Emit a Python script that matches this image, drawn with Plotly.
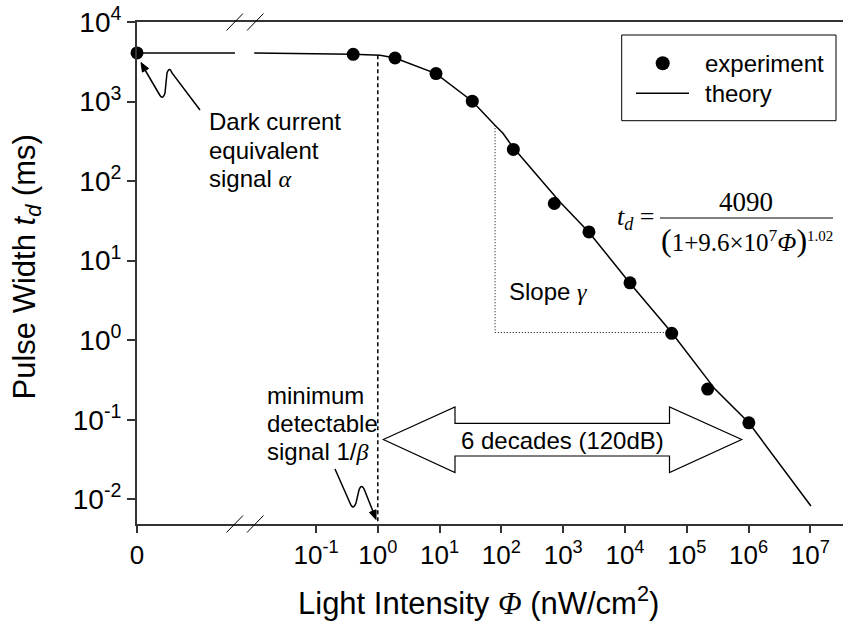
import math
import plotly.graph_objects as go

# ---------------- data ----------------
exp_zero_phi = [0]
exp_zero_t = [4090]
exp_phi = [0.40, 1.90, 8.75, 33.8, 156, 718, 2610, 12050, 57000, 2.18e5, 1.01e6]
exp_t = [3930, 3530, 2250, 1010, 250, 52.3, 23.0, 5.26, 1.22, 0.243, 0.0917]

theory_zero_phi = [0, 0.907]
theory_zero_t = [4090, 4090]
theory_phi = [0.01, 0.169, 0.40, 1.09, 1.9, 8.75, 33.8, 78.7, 106, 154, 887,
              2610, 12050, 57700, 2.86e5, 1.01e6, 1.02e7]
theory_t = [4080, 4010, 3930, 3820, 3530, 2250, 1010, 504, 400, 266, 54.8,
            22.8, 5.21, 1.23, 0.243, 0.0917, 0.00824]

min_signal_phi = [1.0, 1.0]
min_signal_t = [3820, 10 ** -2.31]

slope_phi = [79, 79, 57000]
slope_t = [504, 1.25, 1.25]

x_tickvals = [1e-1, 1e0, 1e1, 1e2, 1e3, 1e4, 1e5, 1e6, 1e7]
x_ticktext = ["10<sup>-1</sup>", "10<sup>0</sup>", "10<sup>1</sup>", "10<sup>2</sup>",
              "10<sup>3</sup>", "10<sup>4</sup>", "10<sup>5</sup>", "10<sup>6</sup>",
              "10<sup>7</sup>"]
y_tickvals = [1e-2, 1e-1, 1e0, 1e1, 1e2, 1e3, 1e4]
y_ticktext = ["10<sup>-2</sup>", "10<sup>-1</sup>", "10<sup>0</sup>", "10<sup>1</sup>",
              "10<sup>2</sup>", "10<sup>3</sup>", "10<sup>4</sup>"]

# ---------------- layout geometry (window pixels) ----------------
W, H = 844, 633
L, R, T, B = 137, 843, 22, 524
BREAK_PX = 245
SANS = "Arial, Liberation Sans, sans-serif"
SERIF = "Times New Roman, Liberation Serif, serif"
AXC = "#333333"


def px(x):
    return (x - L) / (R - L)


def py(y):
    return (B - y) / (B - T)


def path(cmds, close=False):
    out = []
    for c, pts in cmds:
        out.append(c + " " + " ".join(f"{px(a):.5f},{py(b):.5f}" for a, b in pts))
    return " ".join(out) + (" Z" if close else "")


def polyline(pts, close=False):
    return path([("M", pts[:1])] + [("L", [p]) for p in pts[1:]], close)


def head(tip, frm, length=9.0, half=3.6):
    dx, dy = tip[0] - frm[0], tip[1] - frm[1]
    n = math.hypot(dx, dy)
    ux, uy = dx / n, dy / n
    bx, by = tip[0] - length * ux, tip[1] - length * uy
    return [tip, (bx - half * uy, by + half * ux), (bx + half * uy, by - half * ux)]


fig = go.Figure()

line_style = dict(color="black", width=1.5)
marker_style = dict(color="black", size=13, symbol="circle")

fig.add_trace(go.Scatter(x=theory_zero_phi, y=theory_zero_t, mode="lines",
                         line=line_style, xaxis="x", yaxis="y", showlegend=False))
fig.add_trace(go.Scatter(x=theory_phi, y=theory_t, mode="lines", line=line_style,
                         xaxis="x2", yaxis="y", name="theory", showlegend=False))
fig.add_trace(go.Scatter(x=min_signal_phi, y=min_signal_t, mode="lines",
                         line=dict(color="black", width=1.5, dash="4px,3px"),
                         xaxis="x2", yaxis="y", showlegend=False, cliponaxis=False))
fig.add_trace(go.Scatter(x=slope_phi, y=slope_t, mode="lines",
                         line=dict(color="black", width=1, dash="1px,2px"),
                         xaxis="x2", yaxis="y", showlegend=False))
fig.add_trace(go.Scatter(x=exp_zero_phi, y=exp_zero_t, mode="markers", marker=marker_style,
                         xaxis="x", yaxis="y", showlegend=False, cliponaxis=False))
fig.add_trace(go.Scatter(x=exp_phi, y=exp_t, mode="markers", marker=marker_style,
                         xaxis="x2", yaxis="y", name="experiment", showlegend=False))

dom_split = px(BREAK_PX)
axis_common = dict(showline=True, linecolor=AXC, linewidth=2, mirror=True, showgrid=False,
                   zeroline=False, ticks="outside", ticklen=7, tickwidth=1.5, tickcolor=AXC,
                   tickfont=dict(family=SANS, size=26, color="black"))

shapes = []
# axis break slashes (top and bottom)
for yb in (B, T):
    for x0 in (226.5, 247):
        shapes.append(dict(type="line", xref="paper", yref="paper",
                           x0=px(x0), y0=py(yb + 8.5), x1=px(x0 + 16.5), y1=py(yb - 8.5),
                           line=dict(color="black", width=1)))
# double arrow "6 decades"
arrow_pts = [(383.3, 439.5), (455, 407), (455, 423.3), (669.5, 423.3), (669.5, 407),
             (741.7, 439.5), (669.5, 472.5), (669.5, 456), (455, 456), (455, 472.5)]
shapes.append(dict(type="path", xref="paper", yref="paper", path=polyline(arrow_pts, True),
                   fillcolor="white", line=dict(color="black", width=1.2)))
# squiggly arrows
sq1 = [("M", [(200, 110)]), ("L", [(172, 73)]), ("Q", [(169.5, 66), (167, 73)]),
       ("L", [(165, 93)]), ("Q", [(163, 100), (160, 95.5)]), ("L", [(143, 66.5)])]
sq2 = [("M", [(335, 469)]), ("L", [(350, 503)]), ("Q", [(353, 511), (356, 503)]),
       ("L", [(359, 490)]), ("Q", [(361.5, 483), (364.5, 490)]), ("L", [(374, 514)])]
for sq in (sq1, sq2):
    shapes.append(dict(type="path", xref="paper", yref="paper", path=path(sq),
                       line=dict(color="black", width=1.5)))
for tip, frm in [((141, 62.5), (160, 95.5)), ((376, 519.5), (364.5, 490))]:
    shapes.append(dict(type="path", xref="paper", yref="paper",
                       path=polyline(head(tip, frm), True), fillcolor="black",
                       line=dict(color="black", width=1)))
# fraction bar of the formula
shapes.append(dict(type="line", xref="paper", yref="paper", x0=px(660), x1=px(833),
                   y0=py(218), y1=py(218), line=dict(color="black", width=1)))
# legend box
shapes.append(dict(type="rect", xref="paper", yref="paper", x0=px(621.7), x1=px(836),
                   y0=py(120.7), y1=py(35), line=dict(color="black", width=1),
                   fillcolor="white", layer="below"))
shapes.append(dict(type="line", xref="paper", yref="paper", x0=px(636), x1=px(689),
                   y0=py(93.3), y1=py(93.3), line=dict(color="black", width=1.5)))
shapes.append(dict(type="circle", xref="paper", yref="paper", x0=px(655.7), x1=px(669.7),
                   y0=py(70.3), y1=py(56.3), fillcolor="black", line=dict(color="black", width=0)))

ann = []


def text(x, y, s, size=24, xanchor="left", family=SANS, angle=0):
    ann.append(dict(x=px(x), y=py(y), xref="paper", yref="paper", text=s, showarrow=False,
                    xanchor=xanchor, yanchor="middle", textangle=angle,
                    font=dict(family=family, size=size, color="black")))


def greek(ch):
    return f'<span style="font-family:Liberation Serif"><i>{ch}</i></span>'


text(207, 121.7, "Dark current")
text(207, 150, "equivalent")
text(207, 178.3, "signal " + greek("α"))
text(265, 395, "minimum")
text(265, 423, "detectable")
text(265, 451.7, "signal 1/" + greek("β"))
text(506.7, 291.7, "Slope " + greek("γ"))
text(562.5, 440, "6 decades (120dB)", xanchor="center")
text(702.7, 63.3, "experiment")
text(702.7, 93.3, "theory")
# formula
text(657, 218, "<i>t</i><sub><i>d</i></sub> =", size=26, xanchor="right", family=SERIF)
text(746, 202, "4090", size=27, xanchor="center", family=SERIF)
text(747, 240, '<span style="font-size:32px">(</span>1+9.6×10<sup>7</sup><i>Φ</i>'
     '<span style="font-size:32px">)</span><sup><span style="font-size:15px">1.02</span></sup>',
     size=25, xanchor="center", family=SERIF)
# axis titles
text(478.5, 601, "Light Intensity " + greek("Φ") + " (nW/cm<sup>2</sup>)", size=31,
     xanchor="center")
text(26, 267.5, "Pulse Width <i>t<sub>d</sub></i> (ms)", size=31, xanchor="center", angle=-90)

fig.update_layout(
    width=W, height=H, margin=dict(l=L, r=W - R, t=T, b=H - B),
    plot_bgcolor="white", paper_bgcolor="white", showlegend=False,
    xaxis=dict(domain=[0, dom_split], range=[0, 1], tickmode="array", tickvals=[0],
               ticktext=["0"], **axis_common),
    xaxis2=dict(domain=[dom_split, 1], type="log", range=[-2.149, 7.528], anchor="y",
                tickmode="array", tickvals=x_tickvals, ticktext=x_ticktext, **axis_common),
    yaxis=dict(type="log", range=[-2.31, 4.0001], showline=True, linecolor=AXC, linewidth=2,
               showgrid=False, zeroline=False, ticks="outside", ticklen=8, tickwidth=1.5,
               tickcolor=AXC, tickmode="array", tickvals=y_tickvals, ticktext=y_ticktext,
               ticklabeloverflow="allow",
               tickfont=dict(family=SANS, size=28, color="black")),
    shapes=shapes, annotations=ann,
)

# remove the default page margin so the 844x633 figure fills the window exactly
fig.write_html("out.html", config={"displayModeBar": False},
               post_script="document.body.style.margin='0px';")
